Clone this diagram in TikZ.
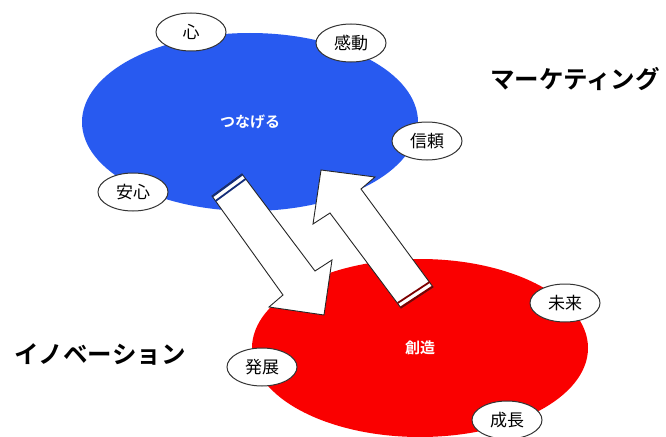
\documentclass[tikz,border=0pt]{standalone}
\usepackage{fontspec}
\setmainfont{Noto Sans CJK JP}[BoldFont={Noto Sans CJK JP Bold}]
\usetikzlibrary{shapes.geometric}
\definecolor{connectblue}{RGB}{40,90,240}
\definecolor{createred}{RGB}{250,0,0}
\begin{document}
\begin{tikzpicture}[
        x=1pt,
        y=-1pt,
        blob/.style={
                ellipse,
                minimum width=336pt,
                minimum height=178pt,
                text=white,
                font=\bfseries\fontsize{15}{15}\selectfont,
            },
        word/.style={
                ellipse,
                draw=black!80,
                line width=1pt,
                fill=white,
                minimum width=70pt,
                minimum height=38pt,
                inner sep=0pt,
                font=\fontsize{17}{17}\selectfont,
            },
        title/.style={
                font=\bfseries\fontsize{24.5}{24.5}\selectfont,
            },
        block/.style={
                draw=black!85,
                fill=white,
                line width=0.9pt,
                line join=miter,
            },
        stripe/.style={line width=1.8pt}
    ]
    \useasboundingbox (0,0) rectangle (666,436);
    \node[blob,fill=connectblue] (connect) at (250,122) {つなげる};
    \node[blob,fill=createred] (create) at (420,348) {創造};

    % arrows between the two circles
    \draw[block] (212,196) -- (242,174) -- (315,271) -- (332,260) -- (324,315) -- (269,307) -- (283,295) -- cycle;
    \draw[stripe,connectblue!50!black] (212.5,196.5) -- (242.5,174.5);
    \draw[stripe,connectblue!50!black] (215.6,201) -- (245.6,179);
    \draw[block] (401,308) -- (433,287) -- (361,189) -- (375,177) -- (321,170) -- (313,224) -- (330,213) -- cycle;
    \draw[stripe,createred!50!black] (400.5,307.5) -- (432.5,286.5);
    \draw[stripe,createred!50!black] (397.7,303) -- (429.7,282);

    \node[word] (heart) at (191,32) {心};
    \node[word] (moving) at (351,43) {感動};
    \node[word] (trust) at (427,141) {信頼};
    \node[word] (relief) at (133,192) {安心};
    \node[word] (future) at (565,303) {未来};
    \node[word] (growth) at (507,420) {成長};
    \node[word] (develop) at (262,367) {発展};

    \node[title] (marketing) at (575,79) {マーケティング};
    \node[title] (innovation) at (100,354) {イノベーション};
\end{tikzpicture}
\end{document}
